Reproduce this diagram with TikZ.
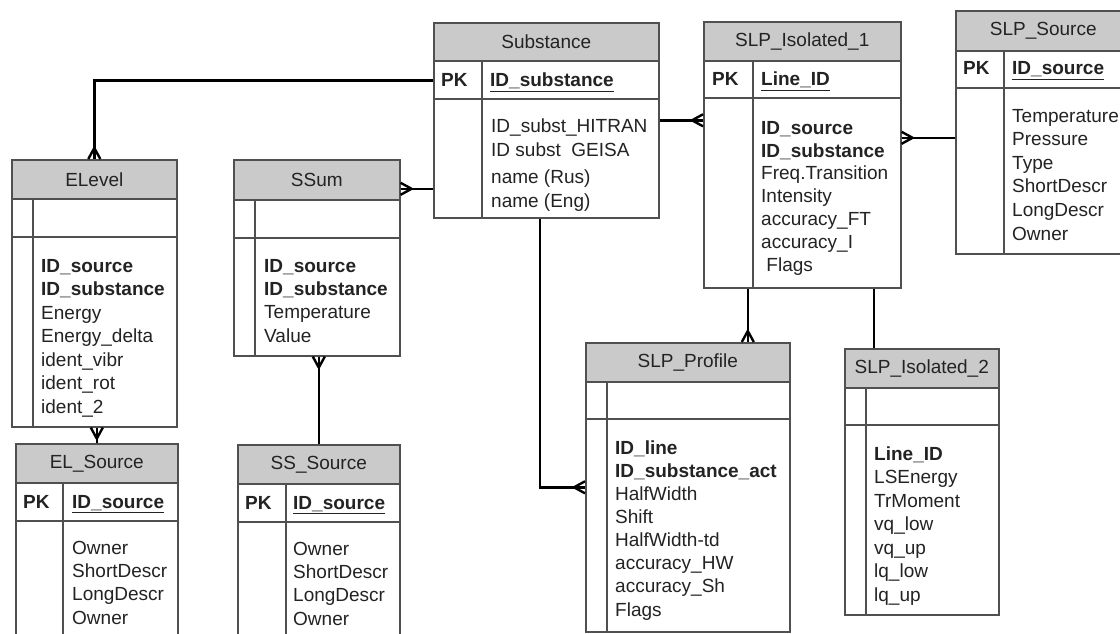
\documentclass[tikz,border=0pt]{standalone}
\usepackage{fontspec}
\setmainfont{Liberation Sans}
\usepackage{tikz}

\definecolor{hdrgray}{RGB}{202,202,202}
\definecolor{boxline}{RGB}{80,80,80}
\definecolor{txtgray}{RGB}{35,35,35}

\pgfdeclarearrow{
  name = crow,
  setup code = {
    \pgfarrowssettipend{0pt}
    \pgfarrowssetlineend{0pt}
    \pgfarrowssetbackend{-11pt}
    \pgfarrowshullpoint{0pt}{6pt}
    \pgfarrowshullpoint{0pt}{-6pt}
    \pgfarrowshullpoint{-11pt}{0pt}
  },
  drawing code = {
    \pgfsetroundjoin
    \pgfpathmoveto{\pgfqpoint{0pt}{6pt}}
    \pgfpathlineto{\pgfqpoint{-11pt}{0pt}}
    \pgfpathlineto{\pgfqpoint{0pt}{-6pt}}
    \pgfusepathqstroke
  }
}

\begin{document}
\begin{tikzpicture}[x=1pt,y=-1pt,font=\fontsize{19}{23.3}\selectfont,
  every node/.style={inner sep=0pt,text=txtgray},
  entity/.style={draw=boxline,fill=white,line width=1.6pt,anchor=north west},
  head/.style={draw=boxline,fill=hdrgray,line width=1.6pt,anchor=north west},
  rule/.style={draw=boxline,line width=1.6pt},
  key/.style={anchor=base west},
  fields/.style={anchor=base west,align=left},
  link/.style={draw=black,line width=2.4pt}]
\clip (0,0) rectangle (1120,634);
\fill[white] (0,0) rectangle (1120,634);

\node[entity, minimum width=165, minimum height=267] (elevel) at (11,159) {};
\node[head, minimum width=165, minimum height=39] (elevel-h) at (11,159) {ELevel};
\draw[rule] (11,237) -- (176,237) (33,198) -- (33,426);
\node[fields, font=\fontsize{19}{23.5}\selectfont] (elevel-f) at (41,413) {\textbf{ID\_source}\\\textbf{ID\_substance}\\Energy\\Energy\_delta\\ident\_vibr\\ident\_rot\\ident\_2};

\node[entity, minimum width=162, minimum height=207] (elsrc) at (15,443) {};
\node[head, minimum width=162, minimum height=39] (elsrc-h) at (15,443) {EL\_Source};
\draw[rule] (15,521) -- (177,521) (63,482) -- (63,650);
\node[key] (elsrc-pk) at (23,508) {\textbf{PK}};
\node[key] (elsrc-k) at (72,508) {\underline{\textbf{ID\_source}}};
\node[fields] (elsrc-f) at (72,624) {Owner\\ShortDescr\\LongDescr\\Owner};

\node[entity, minimum width=166, minimum height=196] (ssum) at (233,159) {};
\node[head, minimum width=166, minimum height=40] (ssum-h) at (233,159) {SSum};
\draw[rule] (233,238) -- (399,238) (255,199) -- (255,355);
\node[fields] (ssum-f) at (264,342) {\textbf{ID\_source}\\\textbf{ID\_substance}\\Temperature\\Value};

\node[entity, minimum width=162, minimum height=206] (sssrc) at (237,444) {};
\node[head, minimum width=162, minimum height=39] (sssrc-h) at (237,444) {SS\_Source};
\draw[rule] (237,522) -- (399,522) (286,483) -- (286,650);
\node[key] (sssrc-pk) at (245,509) {\textbf{PK}};
\node[key] (sssrc-k) at (293,509) {\underline{\textbf{ID\_source}}};
\node[fields] (sssrc-f) at (293,625) {Owner\\ShortDescr\\LongDescr\\Owner};

\node[entity, minimum width=225, minimum height=195] (subst) at (433,22) {};
\node[head, minimum width=225, minimum height=38] (subst-h) at (433,22) {Substance};
\draw[rule] (433,99) -- (658,99) (482,60) -- (482,217);
\node[key] (subst-pk) at (441,87) {\textbf{PK}};
\node[key] (subst-k) at (490,87) {\underline{\textbf{ID\_substance}}};
\node[fields, font=\fontsize{19}{24}\selectfont] (subst-f) at (491,207) {ID\_subst\_HITRAN\\ID subst\ \ GEISA\\[3pt]name (Rus)\\name (Eng)};

\node[entity, minimum width=197, minimum height=266] (slp1) at (703,21) {};
\node[head, minimum width=197, minimum height=39] (slp1-h) at (703,21) {SLP\_Isolated\_1};
\draw[rule] (703,98) -- (900,98) (753,60) -- (753,287);
\node[key] (slp1-pk) at (712,86) {\textbf{PK}};
\node[key] (slp1-k) at (761,86) {\underline{\textbf{Line\_ID}}};
\node[fields, font=\fontsize{19}{22.8}\selectfont] (slp1-f) at (761,271) {\textbf{ID\_source}\\\textbf{ID\_substance}\\Freq.Transition\\Intensity\\accuracy\_FT\\accuracy\_I\\\ Flags};

\node[entity, minimum width=175, minimum height=243] (slpsrc) at (955,10) {};
\node[head, minimum width=175, minimum height=40] (slpsrc-h) at (955,10) {SLP\_Source};
\draw[rule] (955,88) -- (1130,88) (1004,50) -- (1004,253);
\node[key] (slpsrc-pk) at (963,75) {\textbf{PK}};
\node[key] (slpsrc-k) at (1012,75) {\underline{\textbf{ID\_source}}};
\node[fields, font=\fontsize{19}{23.6}\selectfont] (slpsrc-f) at (1012,240) {Temperature\\Pressure\\Type\\ShortDescr\\LongDescr\\Owner};

\node[entity, minimum width=204, minimum height=289] (prof) at (585,342) {};
\node[head, minimum width=204, minimum height=39] (prof-h) at (585,342) {SLP\_Profile};
\draw[rule] (585,419) -- (789,419) (607,381) -- (607,631);
\node[fields, font=\fontsize{19}{23.1}\selectfont] (prof-f) at (615,616) {\textbf{ID\_line}\\\textbf{ID\_substance\_act}\\HalfWidth\\Shift\\HalfWidth-td\\accuracy\_HW\\accuracy\_Sh\\Flags};

\node[entity, minimum width=154, minimum height=266] (slp2) at (844,348) {};
\node[head, minimum width=154, minimum height=39] (slp2-h) at (844,348) {SLP\_Isolated\_2};
\draw[rule] (844,425) -- (998,425) (866,387) -- (866,614);
\node[fields, font=\fontsize{19}{23.5}\selectfont] (slp2-f) at (874,601) {\textbf{Line\_ID}\\LSEnergy\\TrMoment\\vq\_low\\vq\_up\\lq\_low\\lq\_up};

\coordinate (ssum-r) at ([yshift=-9pt]ssum-h.east);
\coordinate (slp1-r) at ([yshift=17pt]slp1.east);
\coordinate (subst-b) at ([xshift=-6.5pt]subst.south);
\coordinate (prof-t) at ([xshift=60pt]prof.north);
\coordinate (slp2-t) at ([xshift=-48pt]slp2.north);

\draw[link, arrows=-crow] (subst.west |- subst-pk) -| (elevel.north);
\draw[link, arrows=crow-] (ssum-r) -- (subst.west |- ssum-r);
\draw[link, arrows=-crow] (subst.east) -- (slp1.west |- subst.east);
\draw[link, arrows=crow-] (slp1-r) -- (slpsrc.west |- slp1-r);
\draw[link, arrows=-crow] (subst-b) |- (prof.west);
\draw[link, arrows=crow-] (prof-t) -- (slp1.south -| prof-t);
\draw[link] (slp2-t) -- (slp1.south -| slp2-t);
\draw[link, arrows=crow-] (elevel.south -| elsrc.north) -- (elsrc.north);
\draw[link, arrows=crow-] (ssum.south -| sssrc.north) -- (sssrc.north);
\end{tikzpicture}
\end{document}
